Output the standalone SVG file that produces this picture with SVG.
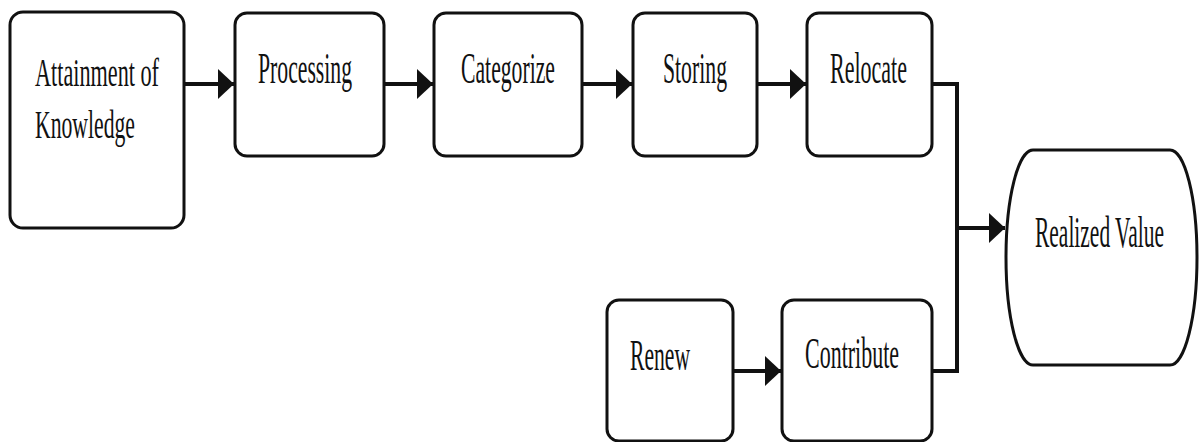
<svg xmlns="http://www.w3.org/2000/svg" width="1200" height="442" viewBox="0 0 1200 442">
  <style>
    .box { fill: #ffffff; stroke: #111111; stroke-width: 3; }
    .lbl { font-family: "Liberation Serif", "DejaVu Serif", "Times New Roman", serif; font-size: 45px; fill: #111111; }
    .sm { font-size: 40px; }
    .conn { fill: none; stroke: #111111; stroke-width: 4; }
  </style>
  <defs>
    <marker id="arr" viewBox="0 0 16 30" refX="16" refY="15" markerUnits="userSpaceOnUse" markerWidth="16" markerHeight="30" orient="auto" preserveAspectRatio="none">
      <path d="M0,0 L16,15 L0,30 Z" fill="#111111"/>
    </marker>
  </defs>
  <rect width="1200" height="442" fill="#ffffff"/>

  <g id="connectors">
    <line class="conn" x1="185" y1="84" x2="234" y2="84" marker-end="url(#arr)"/>
    <line class="conn" x1="385" y1="84" x2="433" y2="84" marker-end="url(#arr)"/>
    <line class="conn" x1="583" y1="84" x2="632" y2="84" marker-end="url(#arr)"/>
    <line class="conn" x1="758" y1="84" x2="806" y2="84" marker-end="url(#arr)"/>
    <polyline class="conn" points="933,84 957,84 957,371 933,371"/>
    <line class="conn" x1="957" y1="228" x2="1005" y2="228" marker-end="url(#arr)"/>
    <line class="conn" x1="734" y1="371" x2="781" y2="371" marker-end="url(#arr)"/>
  </g>

  <g id="node-attainment">
    <rect class="box" x="10" y="12" width="174" height="216" rx="13"/>
    <text class="lbl sm" x="35" y="86" textLength="124" lengthAdjust="spacingAndGlyphs">Attainment of</text>
    <text class="lbl sm" x="35" y="138" textLength="100" lengthAdjust="spacingAndGlyphs">Knowledge</text>
  </g>
  <g id="node-processing">
    <rect class="box" x="235" y="13" width="149" height="143" rx="12"/>
    <text class="lbl" x="258" y="83" textLength="94" lengthAdjust="spacingAndGlyphs">Processing</text>
  </g>
  <g id="node-categorize">
    <rect class="box" x="434" y="13" width="148" height="143" rx="12"/>
    <text class="lbl" x="461" y="83" textLength="94" lengthAdjust="spacingAndGlyphs">Categorize</text>
  </g>
  <g id="node-storing">
    <rect class="box" x="633" y="13" width="124" height="143" rx="12"/>
    <text class="lbl" x="663" y="83" textLength="64" lengthAdjust="spacingAndGlyphs">Storing</text>
  </g>
  <g id="node-relocate">
    <rect class="box" x="807" y="13" width="125" height="143" rx="12"/>
    <text class="lbl" x="830" y="83" textLength="77" lengthAdjust="spacingAndGlyphs">Relocate</text>
  </g>
  <g id="node-realized">
    <path class="box" d="M1033,150 H1170 A27,107.5 0 0 1 1170,365 H1033 A27,107.5 0 0 1 1033,150 Z"/>
    <text class="lbl" transform="translate(1035,247) scale(0.5,1)" x="0" y="0" textLength="258" lengthAdjust="spacingAndGlyphs">Realized Value</text>
  </g>
  <g id="node-renew">
    <rect class="box" x="607" y="300" width="126" height="141" rx="12"/>
    <text class="lbl" x="630" y="370" textLength="60" lengthAdjust="spacingAndGlyphs">Renew</text>
  </g>
  <g id="node-contribute">
    <rect class="box" x="782" y="300" width="150" height="141" rx="12"/>
    <text class="lbl" x="805" y="368" textLength="94" lengthAdjust="spacingAndGlyphs">Contribute</text>
  </g>
</svg>
